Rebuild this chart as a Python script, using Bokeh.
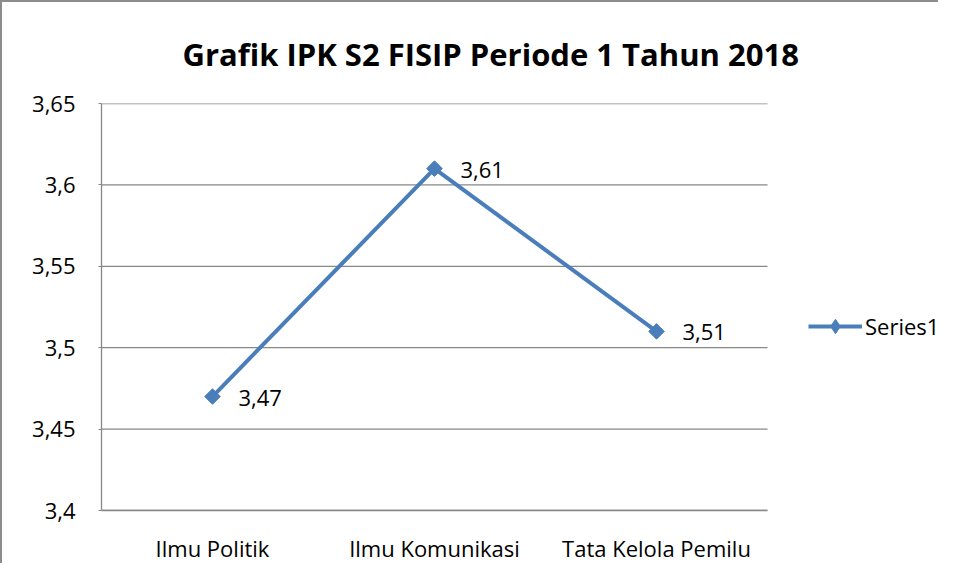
import numpy as np
from bokeh.plotting import figure
from bokeh.models import (Range1d, FixedTicker, Title, Legend, LegendItem, ColumnDataSource)
from bokeh.core.properties import value
from bokeh.embed import file_html
from bokeh.resources import INLINE

# ---- data ----
categories = ["Ilmu Politik", "Ilmu Komunikasi", "Tata Kelola Pemilu"]
ipk = [3.47, 3.61, 3.51]
ipk_labels = ["3,47", "3,61", "3,51"]
y_ticks = [3.4, 3.45, 3.5, 3.55, 3.6, 3.65]
y_tick_labels = ["3,4", "3,45", "3,5", "3,55", "3,6", "3,65"]
title_text = "Grafik IPK S2 FISIP Periode 1 Tahun 2018"
series_name = "Series1"

FONT = "Open Sans"
BLUE = "#4A7EBB"
GRID = "#888888"
FS = "22px"

# category slots: each category occupies one unit, centred at i + 0.5
n = len(categories)
xs = [i + 0.5 for i in range(n)]
src = ColumnDataSource(dict(x=xs, y=ipk, lab=ipk_labels))

# plot area is n units wide (666 px); the extra right part of the frame hosts the legend
x_end = n * (940 - 101) / 666.0

p = figure(width=938, height=563, x_range=Range1d(0, x_end),
           y_range=Range1d(3.4, 3.65), output_backend="svg", toolbar_location=None,
           min_border_left=99, min_border_right=0, min_border_top=101, min_border_bottom=52)
p.styles = {"border-left": "2px solid #8c8c8c", "border-top": "2px solid #8c8c8c"}

p.title = Title(text=title_text, align="left", vertical_align="top", text_font=FONT,
                text_font_size="31px", text_font_style="bold", text_color="black",
                offset=81, standoff=54)

p.outline_line_color = None
p.xgrid.grid_line_color = None
p.ygrid.grid_line_color = None
# horizontal gridlines across the category area only
p.segment(x0=[0] * len(y_ticks), x1=[n] * len(y_ticks), y0=y_ticks, y1=y_ticks,
          line_color=GRID, line_width=1.3)

p.yaxis.ticker = FixedTicker(ticks=y_ticks)
p.yaxis.major_label_overrides = {t: l for t, l in zip(y_ticks, y_tick_labels)}
p.yaxis.axis_line_color = GRID
p.yaxis.axis_line_width = 1.3
p.yaxis.major_tick_line_color = GRID
p.yaxis.major_tick_out = 3
p.yaxis.major_tick_in = 0
p.yaxis.minor_tick_line_color = None
p.yaxis.major_label_standoff = 23

p.xaxis.ticker = FixedTicker(ticks=xs)
p.xaxis.major_label_overrides = {x: c for x, c in zip(xs, categories)}
p.xaxis.bounds = (0, n)
p.xaxis.axis_line_color = GRID
p.xaxis.axis_line_width = 1.3
p.xaxis.major_tick_line_color = None
p.xaxis.minor_tick_line_color = None
p.xaxis.major_label_standoff = 16
for ax in (p.xaxis, p.yaxis):
    ax.major_label_text_font = FONT
    ax.major_label_text_font_size = FS
    ax.major_label_text_color = "black"

ln = p.line("x", "y", source=src, line_color=BLUE, line_width=4)
# diamond used as the legend swatch; it sits fully hidden under the plotted markers
swatch = p.scatter("x", "y", source=src, marker="diamond", size=14,
                   fill_color=BLUE, line_color=BLUE)
mk = p.scatter("x", "y", source=src, marker="square", angle=np.pi / 4, size=11,
               fill_color=BLUE, line_color=BLUE)
p.text("x", "y", text="lab", source=src, x_offset=26, y_offset=1, text_baseline="middle",
       text_font=value(FONT), text_font_size=FS, text_color="black")

legend = Legend(items=[LegendItem(label=series_name, renderers=[ln, swatch])],
                location=(707, 166), margin=0, padding=0, glyph_width=54, glyph_height=36,
                label_standoff=3, border_line_color=None, background_fill_alpha=0,
                label_text_font=FONT, label_text_font_size=FS, label_text_color="black")
p.add_layout(legend)

open("out.html", "w").write(file_html(p, INLINE))
